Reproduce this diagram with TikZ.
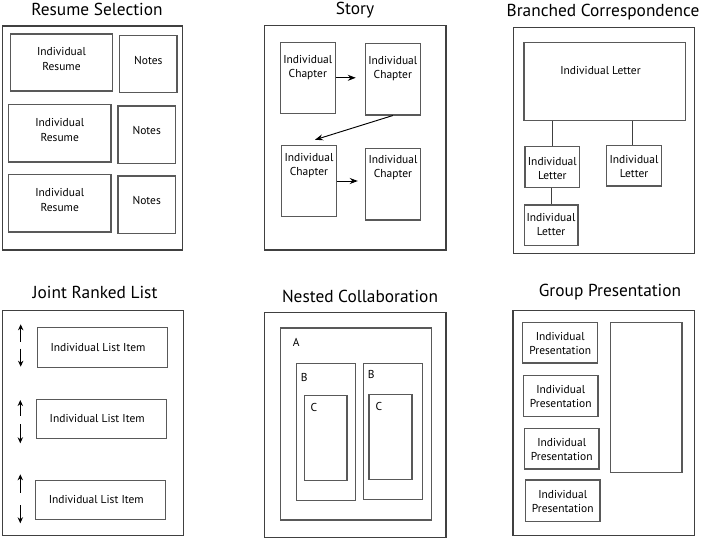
\documentclass[tikz,border=0pt]{standalone}
\usepackage{fontspec}
\setmainfont{PT Sans}
\usetikzlibrary{fit,arrows.meta}
\begin{document}
\begin{tikzpicture}[x=0.75pt,y=-0.75pt,
  pframe/.style={draw=black!75, line width=0.8pt, inner sep=0pt},
  ibox/.style={draw=black!65, line width=0.8pt, inner sep=0pt},
  ttl/.style={font=\fontsize{13}{15}\selectfont, inner sep=0pt, anchor=base},
  tx/.style={font=\fontsize{8.6}{10.6}\selectfont, align=center, inner sep=0pt},
  arr/.style={-{Stealth[length=6pt,width=4.5pt]}, line width=0.7pt},
  varr/.style={-{Stealth[length=4.5pt,width=4pt]}, line width=0.7pt},
  link/.style={line width=0.7pt, draw=black!75}]
\useasboundingbox (0,0) rectangle (705,538);

% ---------- Resume Selection ----------
\node[ttl] (t1) at (97,16) {Resume Selection};
\node[pframe, fit={(2.7,26) (182.7,250)}] (p1) {};
\node[ibox, fit={(10.3,34) (112.7,91)}] (r1) {};
\node[tx] (r1t) at (61.5,59) {Individual\\Resume};
\node[ibox, fit={(119.7,35.3) (177,92.3)}] (n1) {};
\node[tx] (n1t) at (148.3,60) {Notes};
\node[ibox, fit={(8.3,104.7) (111,162)}] (r2) {};
\node[tx] (r2t) at (59.7,130) {Individual\\Resume};
\node[ibox, fit={(118,106) (175.3,163.3)}] (n2) {};
\node[tx] (n2t) at (146.7,130) {Notes};
\node[ibox, fit={(8.3,174.3) (111,232)}] (r3) {};
\node[tx] (r3t) at (59.7,200) {Individual\\Resume};
\node[ibox, fit={(118,176) (175.3,233.3)}] (n3) {};
\node[tx] (n3t) at (146.7,200) {Notes};

% ---------- Story ----------
\node[ttl] (t2) at (355,15) {Story};
\node[pframe, fit={(264.3,25.7) (446,250)}] (p2) {};
\node[ibox, fit={(280.3,42.3) (335.3,113.3)}] (c1) {};
\node[tx] (c1t) at (307.8,68) {Individual\\Chapter};
\node[ibox, fit={(365.3,43.7) (420.3,115)}] (c2) {};
\node[tx] (c2t) at (392.8,68.3) {Individual\\Chapter};
\node[ibox, fit={(281.7,145.3) (336.3,216.7)}] (c3) {};
\node[tx] (c3t) at (309,166) {Individual\\Chapter};
\node[ibox, fit={(365.3,148.7) (420.7,220)}] (c4) {};
\node[tx] (c4t) at (393,167.3) {Individual\\Chapter};
\draw[arr, shorten >=6.75pt] (c1.east) -- (c1.east -| c2.west);
\draw[arr] (c2.south) -- ([xshift=4.5pt,yshift=3.75pt]c3.north);
\draw[arr, shorten >=5.25pt] (c3.east) -- (c3.east -| c4.west);

% ---------- Branched Correspondence ----------
\node[ttl] (t3) at (603,16.5) {Branched Correspondence};
\node[pframe, fit={(513.3,27.3) (694.7,253.3)}] (p3) {};
\node[ibox, fit={(524,42.3) (685.3,120.7)}] (L0) {};
\node[tx] (L0t) at (600.5,70.7) {Individual Letter};
\node[ibox, fit={(525,146.7) (579.7,187.7)}] (L1) {};
\node[tx] (L1t) at (552.3,168.8) {Individual\\Letter};
\node[ibox, fit={(606.7,145.7) (661.7,186)}] (L2) {};
\node[tx] (L2t) at (634,166.3) {Individual\\Letter};
\node[ibox, fit={(524.3,205) (578,245.7)}] (L3) {};
\node[tx] (L3t) at (551,224.3) {Individual\\Letter};
\draw[link] (L1.north |- L0.south) -- (L1.north);
\draw[link] ([xshift=-1.1pt]L2.north |- L0.south) -- ([xshift=-1.1pt]L2.north);
\draw[link] (L3.north) -- (L3.north |- L1.south);

% ---------- Joint Ranked List ----------
\node[ttl] (t4) at (95,298.3) {Joint Ranked List};
\node[pframe, fit={(2.7,310.3) (183.7,535.7)}] (p4) {};
\node[ibox, fit={(37.7,327.7) (167.7,367.3)}] (i1) {};
\node[tx] (i1t) at (98,347.3) {Individual List Item};
\node[ibox, fit={(36.3,399.7) (166.3,438.7)}] (i2) {};
\node[tx] (i2t) at (97.2,418.7) {Individual List Item};
\node[ibox, fit={(35.3,480.7) (165.3,519.7)}] (i3) {};
\node[tx] (i3t) at (96.3,500) {Individual List Item};
\coordinate (u1a) at (20.7,341.7); \coordinate (u1b) at (20.7,324.3);
\coordinate (d1a) at (20.7,348.7); \coordinate (d1b) at (20.7,366.7);
\coordinate (u2a) at (20.3,415.7); \coordinate (u2b) at (20.3,400);
\coordinate (d2a) at (20.3,424.3); \coordinate (d2b) at (20.3,443.3);
\coordinate (u3a) at (20.3,492.7); \coordinate (u3b) at (20.3,474.3);
\coordinate (d3a) at (20.3,505);   \coordinate (d3b) at (20.3,523.3);
\draw[varr] (u1a) -- (u1b);
\draw[varr] (d1a) -- (d1b);
\draw[varr] (u2a) -- (u2b);
\draw[varr] (d2a) -- (d2b);
\draw[varr] (u3a) -- (u3b);
\draw[varr] (d3a) -- (d3b);

% ---------- Nested Collaboration ----------
\node[ttl] (t5) at (360,302.3) {Nested Collaboration};
\node[pframe, fit={(264.3,312.7) (446,537.2)}] (p5) {};
\node[ibox, fit={(280.7,328) (431.3,520)}] (A) {};
\node[tx] (At) at (296.3,342) {A};
\node[ibox, fit={(296.3,363.7) (355.3,500.3)}] (B1) {};
\node[tx] (B1t) at (304.3,377.3) {B};
\node[ibox, fit={(304.3,395.7) (347,480.3)}] (C1) {};
\node[tx] (C1t) at (314,407.7) {C};
\node[ibox, fit={(363.7,363.3) (422.7,499.7)}] (B2) {};
\node[tx] (B2t) at (371.3,374.7) {B};
\node[ibox, fit={(369,394.7) (412,479.3)}] (C2) {};
\node[tx] (C2t) at (379,406.7) {C};

% ---------- Group Presentation ----------
\node[ttl] (t6) at (610,296.7) {Group Presentation};
\node[pframe, fit={(513,310.7) (694.3,535.7)}] (p6) {};
\node[ibox, fit={(522.7,322.3) (597.7,363)}] (P1) {};
\node[tx] (P1t) at (560.2,343.8) {Individual\\Presentation};
\node[ibox, fit={(523.3,375.3) (598,416.7)}] (P2) {};
\node[tx] (P2t) at (560.7,396.8) {Individual\\Presentation};
\node[ibox, fit={(524.3,428.3) (599,469)}] (P3) {};
\node[tx] (P3t) at (561.7,449.5) {Individual\\Presentation};
\node[ibox, fit={(525.3,480) (600,521.3)}] (P4) {};
\node[tx] (P4t) at (562.7,501.5) {Individual\\Presentation};
\node[ibox, fit={(610.3,322.7) (682,472.7)}] (G) {};
\end{tikzpicture}
\end{document}
